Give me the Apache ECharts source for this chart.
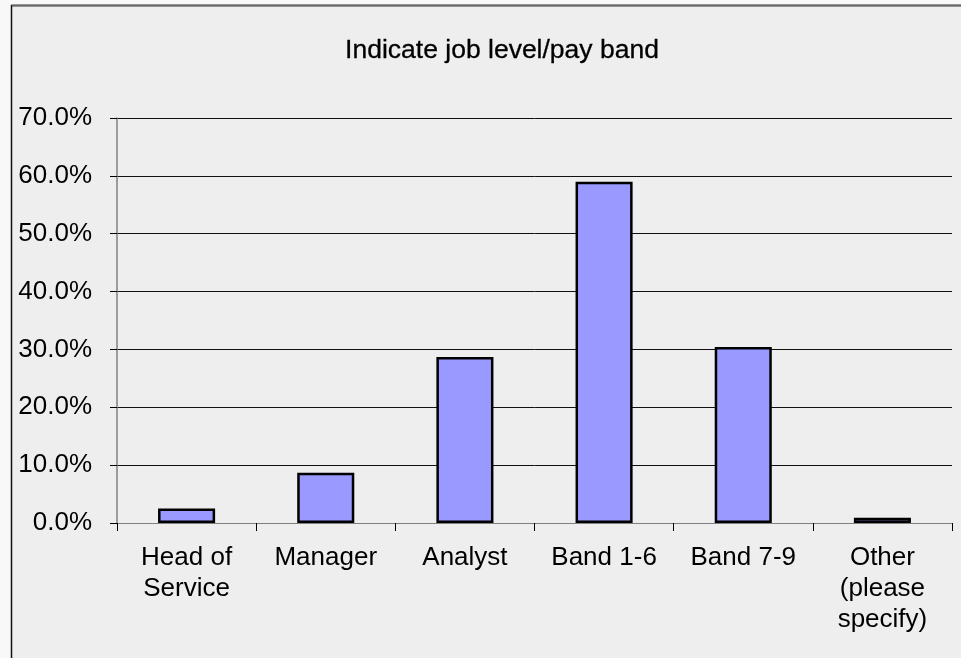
<!DOCTYPE html>
<html>
<head>
<meta charset="utf-8">
<script src="https://cdn.jsdelivr.net/npm/echarts@6/dist/echarts.min.js"></script>
<style>
  html, body { margin: 0; padding: 0; background: #f8f8f8; }
  #chart { width: 961px; height: 658px; }
</style>
</head>
<body>
<div id="chart"></div>
<script>
const titleText = "Indicate job level/pay band";
const categories = ["Head of\nService", "Manager", "Analyst", "Band 1-6", "Band 7-9", "Other\n(please\nspecify)"];
const values = [2.5, 8.7, 28.7, 59.0, 30.4, 0.9];
const yTicks = { min: 0, max: 70, interval: 10 };

const chart = echarts.init(document.getElementById('chart'), null, { renderer: 'canvas' });
const font = '"Liberation Sans", Arial, sans-serif';
chart.setOption({
  backgroundColor: '#f8f8f8',
  animation: false,
  graphic: [{
    type: 'rect',
    z: -10,
    shape: { x: 11, y: 5.5, width: 960, height: 660 },
    style: { fill: '#eeeeee', stroke: null }
  }, {
    type: 'polyline',
    z: -9,
    shape: { points: [[11.5, 670], [11.5, 5.5], [965, 5.5]] },
    style: { fill: null, stroke: '#111111', lineWidth: 1.5 }
  }, {
    type: 'line',
    z: -8,
    shape: { x1: 12, y1: 5.5, x2: 965, y2: 5.5 },
    style: { stroke: '#6a6a6a', lineWidth: 2 }
  }],
  title: {
    text: titleText,
    left: 497,
    textAlign: 'center',
    top: 32,
    textStyle: { fontFamily: font, fontSize: 26.5, fontWeight: 'normal', color: '#000', textBorderColor: '#000', textBorderWidth: 0.3 }
  },
  grid: { left: 117, right: 9, top: 118, bottom: 135, containLabel: false },
  xAxis: {
    type: 'category',
    data: categories,
    axisLine: { lineStyle: { color: '#808080', width: 1 } },
    axisTick: { show: true, length: 8, lineStyle: { color: '#000' } },
    axisLabel: {
      color: '#000', fontFamily: font, fontSize: 26, margin: 19,
      lineHeight: 31, interval: 0, verticalAlign: 'top'
    }
  },
  yAxis: {
    type: 'value',
    min: yTicks.min, max: yTicks.max, interval: yTicks.interval,
    axisLine: { show: true, lineStyle: { color: '#808080', width: 1.5 } },
    axisTick: { show: true, length: 7, inside: false, lineStyle: { color: '#000' } },
    splitLine: { lineStyle: { color: '#111', width: 1 } },
    axisLabel: {
      color: '#000', fontFamily: font, fontSize: 26, margin: 25,
      formatter: v => v.toFixed(1) + '%'
    }
  },
  series: [{
    type: 'bar',
    data: values,
    barCategoryGap: '59%',
    itemStyle: { color: '#9999ff', borderColor: '#000', borderWidth: 2.5 }
  }]
});
</script>
</body>
</html>
